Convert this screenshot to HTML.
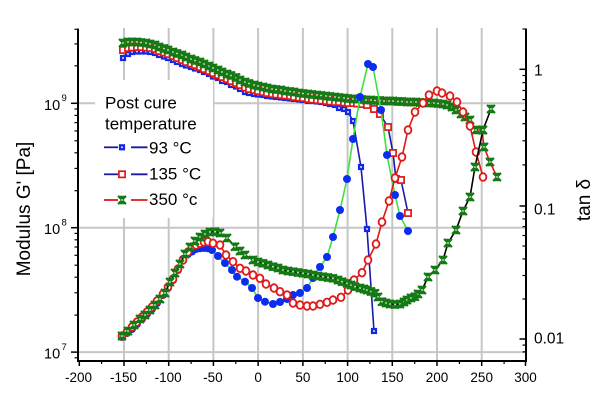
<!DOCTYPE html>
<html>
<head>
<meta charset="utf-8">
<style>
html,body{margin:0;padding:0;background:#fff;}
svg{display:block;}
text{font-family:"Liberation Sans",Arial,sans-serif;fill:#000;}
</style>
</head>
<body>
<svg width="600" height="401" viewBox="0 0 600 401" xmlns="http://www.w3.org/2000/svg">
<defs>
  <marker id="bs" viewBox="0 0 8 8" refX="4" refY="4" markerWidth="8" markerHeight="8" markerUnits="userSpaceOnUse" overflow="visible">
    <rect x="0.9" y="0.9" width="6.2" height="6.2" fill="#1428e6"/>
    <rect x="3.2" y="3.2" width="1.6" height="1.6" fill="#fff"/>
  </marker>
  <marker id="rs" viewBox="0 0 8 8" refX="4" refY="4" markerWidth="8" markerHeight="8" markerUnits="userSpaceOnUse" overflow="visible">
    <rect x="0.9" y="0.9" width="6.2" height="6.2" fill="#fff" stroke="#e01818" stroke-width="1.7"/>
  </marker>
  <marker id="gx" viewBox="0 0 9 9" refX="4.5" refY="4.5" markerWidth="9" markerHeight="9" markerUnits="userSpaceOnUse" overflow="visible">
    <path d="M0.3,0.3 L8.7,0.3 L4.5,4.5 L8.7,8.7 L0.3,8.7 L4.5,4.5 Z" fill="#157a15"/>
    <path d="M0.5,0.5 L8.5,8.5 M8.5,0.5 L0.5,8.5" stroke="#157a15" stroke-width="2"/>
    <circle cx="4.5" cy="4.5" r="0.9" fill="#d8ecd8"/>
  </marker>
  <marker id="bc" viewBox="0 0 8 8" refX="4" refY="4" markerWidth="8" markerHeight="8" markerUnits="userSpaceOnUse" overflow="visible">
    <circle cx="4" cy="4" r="4" fill="#0a2df0"/>
  </marker>
  <marker id="rc" viewBox="0 0 8 8" refX="4" refY="4" markerWidth="8" markerHeight="8" markerUnits="userSpaceOnUse" overflow="visible">
    <ellipse cx="4" cy="4" rx="3.4" ry="3.8" fill="#fff" stroke="#e01818" stroke-width="1.8"/>
  </marker>
</defs>

<rect x="0" y="0" width="600" height="401" fill="#fff"/>

<g stroke="#c6c6c6" stroke-width="2" fill="none">
  <line x1="124" y1="28" x2="124" y2="361"/>
  <line x1="168.7" y1="28" x2="168.7" y2="361"/>
  <line x1="213.4" y1="28" x2="213.4" y2="361"/>
  <line x1="258.1" y1="28" x2="258.1" y2="361"/>
  <line x1="302.9" y1="28" x2="302.9" y2="361"/>
  <line x1="347.6" y1="28" x2="347.6" y2="361"/>
  <line x1="392.3" y1="28" x2="392.3" y2="361"/>
  <line x1="437" y1="28" x2="437" y2="361"/>
  <line x1="481.7" y1="28" x2="481.7" y2="361"/>
  <line x1="78" y1="103.3" x2="526" y2="103.3"/>
  <line x1="78" y1="227.7" x2="526" y2="227.7"/>
  <line x1="78" y1="352.1" x2="526" y2="352.1"/>
</g>

<rect x="95" y="80" width="118" height="138" fill="#fff"/>

<polyline fill="none" stroke="#1a1aa8" stroke-width="1.6" marker-start="url(#bs)" marker-mid="url(#bs)" marker-end="url(#bs)"
 points="123,58 128,54 132,52 137,51.5 141,51.5 146,51.5 150,52 155,53 159,55 164,56.5 168,58 173,60 177,62 182,64 186,65.5 191,67 195,68.5 200,70 204,72 209,74 213,76.5 218,78 222,81 227,82 231,85 236,86.5 240,89 245,92 249,93 254,94 258,94.5 263,95 267,96 272,96.5 276,97 281,97.5 285,98 290,98.5 294,99 299,99.5 303,100 308,101 312,101 317,101.5 321,102 326,103 330,104 335,105 339,108 344,109 348,112 353,121 361,167 367,229 374,331"/>

<polyline fill="none" stroke="#1a1aa8" stroke-width="1.6" marker-start="url(#rs)" marker-mid="url(#rs)" marker-end="url(#rs)"
 points="123,50 128,48 132,47.5 137,47 141,47 146,47.5 150,48 155,49 159,51 164,52.5 168,54 173,56 177,58 182,60 186,62 191,63.5 195,65 200,67 204,69 209,71 213,73 218,75 222,77 227,79 231,81 236,83 240,85 245,87.5 249,89 254,90 258,91 263,92 267,93 272,94 276,94.5 281,95 285,95.5 290,96 294,97 299,97.5 303,98 308,99 312,99.5 317,100 321,100.5 326,101 330,101.5 335,102 339,102 344,102.5 348,103 353,103 357,103.5 362,104 367,105 374,109 380,114 388,127 393,153 396,179 401,180 408,213"/>

<polyline fill="none" stroke="#e01818" stroke-width="1.6" marker-start="url(#gx)" marker-mid="url(#gx)" marker-end="url(#gx)"
 points="123,43 128,42 132,42 137,42 141,42.5 146,43 150,44 155,45 159,47 164,48.5 168,50 173,52 177,53.5 182,55 186,57 191,59 195,60.5 200,62 204,64 209,66 213,68 218,70 222,72 227,74 231,75.5 236,77.5 240,80 245,82 249,83.5 254,85 258,86 263,87 267,88 272,89 276,89.5 281,90 285,91 290,91.5 294,92 299,93 303,93.5 308,94 312,94.5 317,95 321,95.5 326,96 330,96.5 335,97 339,97.5 344,98 348,98.5 353,99 357,99 362,99.5 366,100 371,100 375,100.5 380,100.5 384,101 389,101 393,101 398,101.5 402,101.5 407,102 411,102 416,102 420,102.5 425,102.5 429,103 434,103 438,103.5 443,104 447,105 452,107 456,110 461,114 465,117 470,120 476,130 482,130 484,147 490,162 497,177"/>

<polyline fill="none" stroke="#3ee03e" stroke-width="1.6" marker-start="url(#bc)" marker-mid="url(#bc)" marker-end="url(#bc)"
 points="122,337 127,333 132,329 137,324 142,319 147,314 152,309 157,303 163,295 168,288 173,280 178,270 183,259 188,254 192,251.5 196,249 200,248.3 204,248 208,248.3 212,250 218,256 225,263 232,270 237,276.7 245,281.7 252,288 258,298 265,301.7 273,304 280,302 287,299 293,295 300,293 307,288 313,278 320,267 327,257 333,237 340,210 347,179 353,139 360,97 368,64 373,67 381,110 387,155 395,195 400,216 408,231"/>

<polyline fill="none" stroke="#e01818" stroke-width="1.6" marker-start="url(#rc)" marker-mid="url(#rc)" marker-end="url(#rc)"
 points="122,336 127,332 132,327 137,322 142,317 147,312 152,307 157,301 163,294 168,287 173,279 178,269 183,260 188,252 192,247 196,245 200,243.3 204,242 208,241.7 213,243.3 220,245 226,255 233,261.7 240,268.3 246,271 253,275 260,278.3 266,284 274,288 280,291.7 287,295 293,303 300,305 307,306 313,306 320,304.3 327,302.3 333,300 341,297.3 348,290 354,280 362,272.7 368,260 376,244 382,222 389,201 395,178 402,157 408,130 415,112 423,103 429,95 437,91 442,93 450,96 457,102 463,112 470,126 476,152 483,177"/>

<polyline fill="none" stroke="#000" stroke-width="1.6" marker-start="url(#gx)" marker-mid="url(#gx)" marker-end="url(#gx)"
 points="122,336 128,331 134,325 140,319 145,315 150,310 155,305 160,299 165,293 170,282 175,273 180,264 185,254 190,247 195,241 200,237 205,234 210,232 215,231.7 220,233 227,238 235,246.7 240,251 245,255 253,260 258,262 263,263.3 268,265 273,266.7 278,268 283,270 288,271 293,271.7 298,272.5 303,273.3 308,274 313,275 318,276 323,276.7 328,277.5 333,278.3 338,280 342,281.7 347,283.3 351,285 355,286.7 360,288 364,289 367,290 371,291.5 375,293.3 378,297 382,301.7 386,303 390,304 395,304.5 400,304 404,302 407,300 411,298 415,296.7 418,294 422,290 428,277 435,270 443,260 448,243 456,230 463,211 470,197 475,167 483,130 491,109"/>

<g stroke="#000" fill="none">
  <line x1="78" y1="28.5" x2="78" y2="362" stroke-width="2"/>
  <line x1="526" y1="28.5" x2="526" y2="362" stroke-width="2"/>
  <line x1="77" y1="361" x2="527" y2="361" stroke-width="2"/>
  <g stroke-width="1.5">
    <line x1="71" y1="103.3" x2="78" y2="103.3"/>
    <line x1="71" y1="227.7" x2="78" y2="227.7"/>
    <line x1="71" y1="352.1" x2="78" y2="352.1"/>
  </g>
  <g stroke-width="1.2">
    <line x1="74.5" y1="29.3" x2="78" y2="29.3"/>
    <line x1="74.5" y1="43.9" x2="78" y2="43.9"/>
    <line x1="74.5" y1="65.8" x2="78" y2="65.8"/>
    <line x1="74.5" y1="109" x2="78" y2="109"/>
    <line x1="74.5" y1="115.4" x2="78" y2="115.4"/>
    <line x1="74.5" y1="122.6" x2="78" y2="122.6"/>
    <line x1="74.5" y1="130.9" x2="78" y2="130.9"/>
    <line x1="74.5" y1="140.8" x2="78" y2="140.8"/>
    <line x1="74.5" y1="152.8" x2="78" y2="152.8"/>
    <line x1="74.5" y1="168.4" x2="78" y2="168.4"/>
    <line x1="74.5" y1="190.7" x2="78" y2="190.7"/>
    <line x1="74.5" y1="233.4" x2="78" y2="233.4"/>
    <line x1="74.5" y1="239.8" x2="78" y2="239.8"/>
    <line x1="74.5" y1="247" x2="78" y2="247"/>
    <line x1="74.5" y1="255.3" x2="78" y2="255.3"/>
    <line x1="74.5" y1="265.2" x2="78" y2="265.2"/>
    <line x1="74.5" y1="277.2" x2="78" y2="277.2"/>
    <line x1="74.5" y1="292.8" x2="78" y2="292.8"/>
    <line x1="74.5" y1="315.1" x2="78" y2="315.1"/>
    <line x1="74.5" y1="357.8" x2="78" y2="357.8"/>
  </g>
  <g stroke-width="1.5">
    <line x1="519.5" y1="69.3" x2="526" y2="69.3"/>
    <line x1="519.5" y1="206" x2="526" y2="206"/>
    <line x1="519.5" y1="339" x2="526" y2="339"/>
  </g>
  <g stroke-width="1.2">
    <line x1="522.5" y1="29" x2="526" y2="29"/>
    <line x1="522.5" y1="75.5" x2="526" y2="75.5"/>
    <line x1="522.5" y1="82.6" x2="526" y2="82.6"/>
    <line x1="522.5" y1="90.5" x2="526" y2="90.5"/>
    <line x1="522.5" y1="99.6" x2="526" y2="99.6"/>
    <line x1="522.5" y1="110.5" x2="526" y2="110.5"/>
    <line x1="522.5" y1="123.7" x2="526" y2="123.7"/>
    <line x1="522.5" y1="140.8" x2="526" y2="140.8"/>
    <line x1="522.5" y1="164.9" x2="526" y2="164.9"/>
    <line x1="522.5" y1="212.1" x2="526" y2="212.1"/>
    <line x1="522.5" y1="218.9" x2="526" y2="218.9"/>
    <line x1="522.5" y1="226.6" x2="526" y2="226.6"/>
    <line x1="522.5" y1="235.5" x2="526" y2="235.5"/>
    <line x1="522.5" y1="246" x2="526" y2="246"/>
    <line x1="522.5" y1="258.9" x2="526" y2="258.9"/>
    <line x1="522.5" y1="275.5" x2="526" y2="275.5"/>
    <line x1="522.5" y1="299" x2="526" y2="299"/>
    <line x1="522.5" y1="345.1" x2="526" y2="345.1"/>
    <line x1="522.5" y1="351.9" x2="526" y2="351.9"/>
  </g>
  <g stroke-width="1.5">
    <line x1="79.3" y1="361" x2="79.3" y2="366"/>
    <line x1="124" y1="361" x2="124" y2="366"/>
    <line x1="168.7" y1="361" x2="168.7" y2="366"/>
    <line x1="213.4" y1="361" x2="213.4" y2="366"/>
    <line x1="258.1" y1="361" x2="258.1" y2="366"/>
    <line x1="302.9" y1="361" x2="302.9" y2="366"/>
    <line x1="347.6" y1="361" x2="347.6" y2="366"/>
    <line x1="392.3" y1="361" x2="392.3" y2="366"/>
    <line x1="437" y1="361" x2="437" y2="366"/>
    <line x1="481.7" y1="361" x2="481.7" y2="366"/>
    <line x1="525.5" y1="361" x2="525.5" y2="366"/>
  </g>
  <g stroke-width="1.2">
    <line x1="101.6" y1="361" x2="101.6" y2="364"/>
    <line x1="146.4" y1="361" x2="146.4" y2="364"/>
    <line x1="191.1" y1="361" x2="191.1" y2="364"/>
    <line x1="235.8" y1="361" x2="235.8" y2="364"/>
    <line x1="280.5" y1="361" x2="280.5" y2="364"/>
    <line x1="325.2" y1="361" x2="325.2" y2="364"/>
    <line x1="369.9" y1="361" x2="369.9" y2="364"/>
    <line x1="414.7" y1="361" x2="414.7" y2="364"/>
    <line x1="459.4" y1="361" x2="459.4" y2="364"/>
    <line x1="504.1" y1="361" x2="504.1" y2="364"/>
  </g>
</g>

<g font-size="13.5" text-anchor="middle">
  <text x="78.5" y="382">-200</text>
  <text x="123.5" y="382">-150</text>
  <text x="168.2" y="382">-100</text>
  <text x="212.9" y="382">-50</text>
  <text x="258.1" y="382">0</text>
  <text x="302.9" y="382">50</text>
  <text x="347.6" y="382">100</text>
  <text x="392.3" y="382">150</text>
  <text x="437" y="382">200</text>
  <text x="481.7" y="382">250</text>
  <text x="525.5" y="382">300</text>
</g>

<g font-size="14.5">
  <text x="44" y="109.8">10</text><text x="61.5" y="101" font-size="9.5">9</text>
  <text x="44" y="234.2">10</text><text x="61.5" y="225.4" font-size="9.5">8</text>
  <text x="44" y="358.6">10</text><text x="61.5" y="349.8" font-size="9.5">7</text>
</g>

<g font-size="15.5">
  <text x="534" y="75.5">1</text>
  <text x="534" y="214.5">0.1</text>
  <text x="534" y="343.5">0.01</text>
</g>

<text font-size="19" text-anchor="middle" transform="translate(30,209) rotate(-90)">Modulus G' [Pa]</text>
<text font-size="19" text-anchor="middle" transform="translate(590,200) rotate(-90)">tan δ</text>

<g font-size="17">
  <text x="105" y="108.5">Post cure</text>
  <text x="105" y="129.5">temperature</text>
  <text x="149" y="153.5">93 °C</text>
  <text x="149" y="179.5">135 °C</text>
  <text x="149" y="205">350 °c</text>
</g>
<g stroke-width="1.8">
  <line x1="104" y1="147.3" x2="118" y2="147.3" stroke="#1a1aa8"/>
  <line x1="131" y1="147.3" x2="147.5" y2="147.3" stroke="#1a1aa8"/>
  <line x1="104" y1="174.3" x2="118" y2="174.3" stroke="#1a1aa8"/>
  <line x1="131" y1="174.3" x2="147.5" y2="174.3" stroke="#1a1aa8"/>
  <line x1="104" y1="200" x2="118" y2="200" stroke="#e01818"/>
  <line x1="131" y1="200" x2="147.5" y2="200" stroke="#e01818"/>
</g>
<polyline points="122,147.3 122,147.3" fill="none" stroke="none" marker-start="url(#bs)"/>
<polyline points="122,174.3 122,174.3" fill="none" stroke="none" marker-start="url(#rs)"/>
<polyline points="122,200 122,200" fill="none" stroke="none" marker-start="url(#gx)"/>
</svg>
</body>
</html>
